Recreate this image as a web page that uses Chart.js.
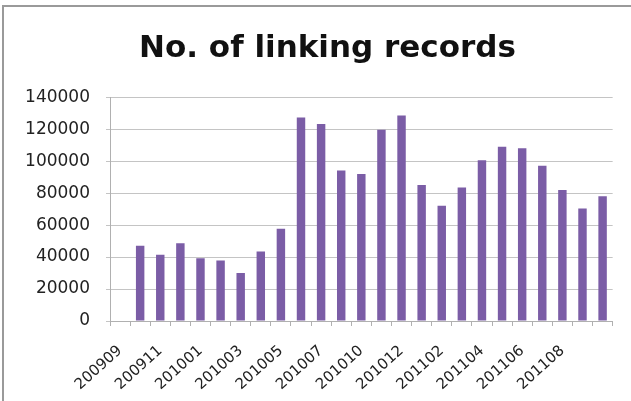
<!DOCTYPE html>
<html>
<head>
<meta charset="utf-8">
<script src="https://cdn.jsdelivr.net/npm/chart.js@4/dist/chart.umd.min.js"></script>
<style>
  html, body { margin: 0; padding: 0; background: #fff; overflow: hidden; }
  #wrap { position: relative; width: 631px; height: 401px; overflow: hidden; }
  #frame {
    position: absolute; left: 2px; top: 5px; width: 640px; height: 410px;
    border-left: 2px solid #9a9a9a; border-top: 2px solid #9a9a9a;
    pointer-events: none;
  }
</style>
</head>
<body>
<div id="wrap">
  <canvas id="chart" width="631" height="401"></canvas>
  <div id="frame"></div>
</div>
<script>
// months on the x axis (one month is missing between 201007 and 201010)
const months = [
  "200909", "200910", "200911", "200912", "201001", "201002", "201003",
  "201004", "201005", "201006", "201007", "201008", "201010", "201011",
  "201012", "201101", "201102", "201103", "201104", "201105", "201106",
  "201107", "201108", "201109", "201110"
];

// number of linking records per month
const records = [
  0, 47000, 41400, 48700, 39200, 37900, 30000,
  43500, 57700, 127300, 123300, 94200, 91900, 119600,
  128500, 85000, 72100, 83500, 100600, 109000, 108100,
  97100, 81900, 70400, 78100
];

const yTicks = [0, 20000, 40000, 60000, 80000, 100000, 120000, 140000];

// nudge the title a bit to the right, like in the original sheet
const shiftTitle = {
  id: "shiftTitle",
  afterLayout(chart) {
    if (chart.titleBlock) {
      chart.titleBlock.left = 40;
      chart.titleBlock.right = 615;
    }
  },
};

const ctx = document.getElementById("chart").getContext("2d");
new Chart(ctx, {
  type: "bar",
  data: {
    labels: months,
    datasets: [
      {
        label: "No. of linking records",
        data: records,
        backgroundColor: "#7b5da6",
        borderWidth: 0,
        categoryPercentage: 1.0,
        barPercentage: 0.42,
      },
    ],
  },
  plugins: [shiftTitle],
  options: {
    responsive: false,
    animation: false,
    layout: { padding: { left: 0, right: 18, top: 0, bottom: 0 } },
    plugins: {
      legend: { display: false },
      tooltip: { enabled: false },
      title: {
        display: true,
        text: "No. of linking records",
        color: "#111",
        font: { family: "DejaVu Sans", size: 31, weight: "bold" },
        padding: { top: 30, bottom: 30 },
      },
    },
    scales: {
      x: {
        grid: {
          drawOnChartArea: false,
          drawTicks: true,
          tickLength: 5,
          color: "#b0b0b0",
        },
        border: { color: "#b0b0b0" },
        ticks: {
          autoSkip: false,
          maxRotation: 42,
          minRotation: 42,
          padding: 16,
          color: "#222",
          font: { family: "DejaVu Sans", size: 15 },
          // every second month is labelled, the last one is left out
          callback: function (value, index) {
            if (index % 2 !== 0 || index === months.length - 1) return "";
            return months[index];
          },
        },
        afterFit: function (scale) {
          scale.height = 80;
        },
      },
      y: {
        min: 0,
        max: 140000,
        afterBuildTicks: function (scale) {
          scale.ticks = yTicks.map((v) => ({ value: v }));
        },
        grid: { color: "#c4c4c4", tickLength: 4 },
        border: { color: "#b0b0b0" },
        ticks: {
          padding: 16,
          color: "#222",
          font: { family: "DejaVu Sans", size: 17 },
          callback: function (value) {
            return String(value);
          },
        },
        afterFit: function (scale) {
          scale.width = 110;
        },
      },
    },
  },
});
</script>
</body>
</html>
